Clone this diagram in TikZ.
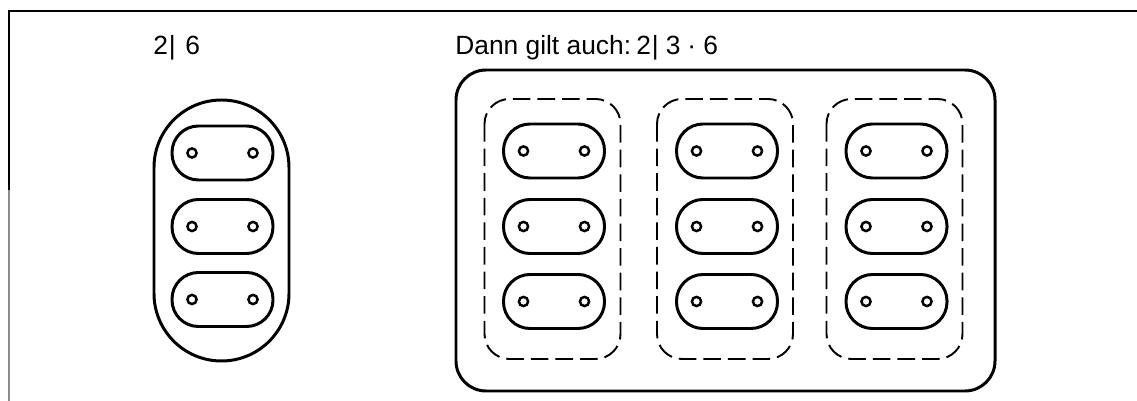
\documentclass[tikz,border=0pt]{standalone}
\usepackage{fontspec}
\setmainfont{Liberation Sans}
\tikzset{
  frame/.style={line width=1.2pt},
  outline/.style={line width=1.7pt},
  holeline/.style={line width=1.4pt},
  groupbox/.style={line width=1.1pt, dash pattern=on 10pt off 4pt, rounded corners=0.5cm},
  label/.style={inner sep=0pt, anchor=base west, font=\fontsize{15}{18}\selectfont},
  pill/.pic={
    \draw[outline, rounded corners=0.53cm] (-50.5,-27) rectangle (50.5,27);
    \draw[holeline] (-30.5,0) circle[radius=4.6];
    \draw[holeline] (30.5,0) circle[radius=4.6];
  }
}
\begin{document}
\begin{tikzpicture}[x=0.02cm, y=-0.02cm]
  \useasboundingbox (0,0) rectangle (1137,401);

  % frame: top rule and left rule
  \coordinate (ftl) at (9,11);
  \coordinate (ftr) at (1137,11);
  \coordinate (fmid) at (9,190);
  \coordinate (fbl) at (9,401);
  \draw[frame] (ftr) -- (ftl) -- (fmid);
  \draw[line width=0.6pt, black!45] (fmid) -- (fbl);

  % captions
  \node[label] (capA) at (153,55) {2\hspace{0.5pt}|\hspace{5.5pt}6};
  \node[label] (capB) at (455,55) {Dann gilt auch:\hspace{3pt}2\hspace{0.5pt}|\hspace{4pt}3\hspace{4pt}·\hspace{4pt}6};

  % left: one group of three pairs
  \draw[outline, rounded corners=1.35cm] (154,100) rectangle (289,361);
  \foreach \y in {153,226.5,299.5}
    \pic at (222.5,\y) {pill};

  % right: three groups of three pairs
  \draw[outline, rounded corners=0.6cm] (456,70) rectangle (995,391);
  \foreach \cx/\bx in {554/552.5, 727/725, 896.5/894.5} {
    \draw[groupbox] (\bx-68,99) rectangle (\bx+68,359);
    \foreach \y in {151,226.5,301.5}
      \pic at (\cx,\y) {pill};
  }
\end{tikzpicture}
\end{document}
